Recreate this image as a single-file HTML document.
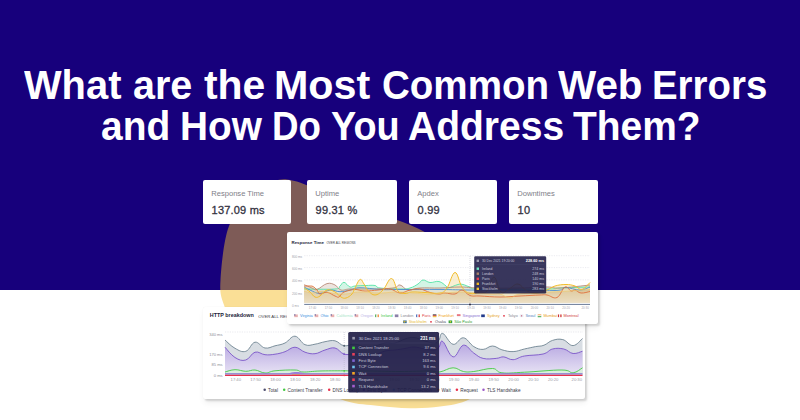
<!DOCTYPE html>
<html><head><meta charset="utf-8">
<style>
*{margin:0;padding:0;box-sizing:border-box}
html,body{width:800px;height:420px;overflow:hidden;background:#fff;font-family:"Liberation Sans",sans-serif}
#stage{position:relative;width:800px;height:420px;overflow:hidden;background:#fff}
#navy{position:absolute;left:0;top:0;width:800px;height:290px;background:#17007c}
.full{position:absolute;left:0;top:0;width:800px;height:420px;overflow:visible}
.tw{position:absolute;color:#fff;font-weight:bold;font-size:40px;white-space:nowrap;line-height:40px;transform-origin:0 0}
.title{position:absolute;left:0;width:800px;text-align:center;color:#fff;font-weight:bold;font-size:40px;white-space:nowrap;line-height:40px}
.card{position:absolute;background:#fff;border-radius:2px}
.stat .lbl{position:absolute;left:8.2px;top:8.6px;font-size:7.6px;color:#808088;white-space:nowrap}
.stat .val{position:absolute;left:8.6px;top:23.8px;font-size:11px;font-weight:normal;-webkit-text-stroke:0.3px #33323f;letter-spacing:0.2px;color:#33323f;white-space:nowrap}
svg text{font-family:"Liberation Sans",sans-serif}
</style></head><body>
<div id="stage">
<div id="navy"></div>
<svg class="full" width="800" height="420">
 <defs>
  <clipPath id="ctop"><rect x="0" y="0" width="800" height="290"/></clipPath>
  <clipPath id="cbot"><rect x="0" y="290" width="800" height="130"/></clipPath>
 </defs>
 <g clip-path="url(#ctop)"><path d="M287.0,179.5 C303.2,180.9 328.2,196.3 350.0,204.5 C371.8,212.7 398.0,218.4 418.0,228.5 C438.0,238.6 454.7,249.8 470.0,265.0 C485.3,280.2 505.0,301.7 510.0,320.0 C515.0,338.3 506.7,361.8 500.0,375.0 C493.3,388.2 480.0,393.7 470.0,399.0 C460.0,404.3 450.0,405.1 440.0,406.6 C430.0,408.1 420.8,408.4 410.0,408.2 C399.2,408.0 386.7,407.0 375.0,405.5 C363.3,404.0 355.8,404.9 340.0,399.0 C324.2,393.1 296.7,380.7 280.0,370.0 C263.3,359.3 249.3,345.8 240.0,335.0 C230.7,324.2 227.2,314.2 224.0,305.0 C220.8,295.8 219.7,293.2 220.5,280.0 C221.3,266.8 223.6,240.0 229.0,226.0 C234.4,212.0 243.3,203.8 253.0,196.0 C262.7,188.2 270.8,178.1 287.0,179.5 Z" fill="#7e5b57"/></g>
 <g clip-path="url(#cbot)"><path d="M287.0,179.5 C303.2,180.9 328.2,196.3 350.0,204.5 C371.8,212.7 398.0,218.4 418.0,228.5 C438.0,238.6 454.7,249.8 470.0,265.0 C485.3,280.2 505.0,301.7 510.0,320.0 C515.0,338.3 506.7,361.8 500.0,375.0 C493.3,388.2 480.0,393.7 470.0,399.0 C460.0,404.3 450.0,405.1 440.0,406.6 C430.0,408.1 420.8,408.4 410.0,408.2 C399.2,408.0 386.7,407.0 375.0,405.5 C363.3,404.0 355.8,404.9 340.0,399.0 C324.2,393.1 296.7,380.7 280.0,370.0 C263.3,359.3 249.3,345.8 240.0,335.0 C230.7,324.2 227.2,314.2 224.0,305.0 C220.8,295.8 219.7,293.2 220.5,280.0 C221.3,266.8 223.6,240.0 229.0,226.0 C234.4,212.0 243.3,203.8 253.0,196.0 C262.7,188.2 270.8,178.1 287.0,179.5 Z" fill="#fadf96"/></g>
</svg>
<span class="tw" style="left:23.75px;top:64.9px;transform:scaleX(0.9964)">What</span>
<span class="tw" style="left:132.76px;top:64.9px;transform:scaleX(0.9871)">are</span>
<span class="tw" style="left:203.50px;top:64.9px;transform:scaleX(1.0220)">the</span>
<span class="tw" style="left:274.41px;top:64.9px;transform:scaleX(1.0311)">Most</span>
<span class="tw" style="left:382.34px;top:64.9px;transform:scaleX(0.9635)">Common</span>
<span class="tw" style="left:558.40px;top:64.9px;transform:scaleX(1.0098)">Web</span>
<span class="tw" style="left:652.12px;top:64.9px;transform:scaleX(0.9603)">Errors</span>
<span class="tw" style="left:101.38px;top:106.2px;transform:scaleX(0.9728)">and</span>
<span class="tw" style="left:180.09px;top:106.2px;transform:scaleX(0.9695)">How</span>
<span class="tw" style="left:272.14px;top:106.2px;transform:scaleX(0.9184)">Do</span>
<span class="tw" style="left:331.36px;top:106.2px;transform:scaleX(0.9449)">You</span>
<span class="tw" style="left:408.02px;top:106.2px;transform:scaleX(0.9753)">Address</span>
<span class="tw" style="left:572.50px;top:106.2px;transform:scaleX(0.9729)">Them?</span>

<div class="card stat" style="left:203px;top:180px;width:88px;height:44px"><div class="lbl">Response Time</div><div class="val">137.09 ms</div></div>
<div class="card stat" style="left:307px;top:180px;width:90px;height:44px"><div class="lbl">Uptime</div><div class="val">99.31 %</div></div>
<div class="card stat" style="left:409px;top:180px;width:88px;height:44px"><div class="lbl">Apdex</div><div class="val">0.99</div></div>
<div class="card stat" style="left:509px;top:180px;width:89px;height:44px"><div class="lbl">Downtimes</div><div class="val">10</div></div>

<!-- HTTP breakdown card -->
<div class="card" style="left:203.3px;top:306.5px;width:382.2px;height:92px;box-shadow:2px 2px 2px rgba(0,0,0,.15),1px 4px 6px rgba(0,0,0,.06),0 0 1px rgba(0,0,0,.08)"></div>
<svg class="full" width="800" height="420">
<text x="209.8" y="317.4" font-size="5.4" font-weight="bold" fill="#23233a">HTTP breakdown</text>
<text x="258.2" y="317.6" font-size="4.3" fill="#3a3a46">OVER ALL REGIONS</text>
<line x1="225" y1="332" x2="583" y2="332" stroke="#dcdce4" stroke-width="0.6" stroke-dasharray="1.2 1.2"/>
<text x="222.6" y="335.59999999999997" font-size="4.1" fill="#8e8e98" text-anchor="end">340 ms</text>
<text x="222.6" y="355.79999999999995" font-size="4.1" fill="#8e8e98" text-anchor="end">170 ms</text>
<text x="222.6" y="366.4" font-size="4.1" fill="#8e8e98" text-anchor="end">85 ms</text>
<text x="222.6" y="377.0" font-size="4.1" fill="#8e8e98" text-anchor="end">0 ms</text>
<defs><linearGradient id="pg" x1="0" y1="0" x2="0" y2="1"><stop offset="0" stop-color="#b4a3e0"/><stop offset="1" stop-color="#e9e5f5"/></linearGradient></defs>
<path d="M225.0,340.0 C227.0,341.7 230.8,346.0 235.0,348.3 C239.2,350.6 241.8,352.5 245.8,351.3 C249.8,350.1 251.2,342.9 255.0,342.2 C258.8,341.5 261.0,347.3 265.0,348.0 C269.0,348.7 271.0,346.8 275.0,345.8 C279.0,344.8 281.0,344.9 285.0,343.0 C289.0,341.1 291.0,335.9 295.0,336.2 C299.0,336.5 301.0,343.1 305.0,344.7 C309.0,346.3 311.0,344.8 315.0,344.2 C319.0,343.6 321.0,342.4 325.0,341.7 C329.0,341.0 331.2,340.0 335.0,340.8 C338.8,341.6 340.2,345.2 344.2,345.8 C348.2,346.4 350.8,343.8 355.0,344.0 C359.2,344.2 361.0,346.6 365.0,347.0 C369.0,347.4 371.0,346.8 375.0,346.0 C379.0,345.2 381.0,343.6 385.0,343.0 C389.0,342.4 391.0,343.8 395.0,343.0 C399.0,342.2 401.2,340.1 405.0,339.0 C408.8,337.9 410.0,337.1 414.0,337.5 C418.0,337.9 420.8,339.9 425.0,341.0 C429.2,342.1 432.2,343.2 435.0,343.0 C437.8,342.8 437.4,341.9 439.0,340.0 C440.6,338.1 440.0,332.5 442.8,333.4 C445.6,334.3 449.0,343.4 453.1,344.3 C457.2,345.2 459.3,337.3 463.4,337.8 C467.5,338.2 469.8,344.3 473.8,346.6 C477.7,348.9 479.4,349.5 483.1,349.4 C486.9,349.3 488.7,345.9 492.5,346.0 C496.3,346.1 497.8,348.6 501.9,349.8 C506.0,350.9 508.6,351.8 513.1,351.6 C517.6,351.5 519.9,350.0 524.4,349.0 C528.9,348.0 531.7,347.4 535.6,346.6 C539.5,345.9 540.6,346.5 544.0,345.2 C547.4,344.0 548.7,341.5 552.5,340.4 C556.3,339.3 558.7,338.6 562.8,339.6 C566.9,340.6 569.2,345.8 573.1,345.6 C577.0,345.4 580.6,339.9 582.5,338.5 L582.5,375.3 L225.0,375.3 Z" fill="#d8dde3"/>
<path d="M225.0,347.2 C227.0,349.3 230.8,354.9 235.0,357.5 C239.2,360.1 241.8,361.1 245.8,360.0 C249.8,358.9 251.2,353.3 255.0,352.2 C258.8,351.1 261.0,354.3 265.0,354.7 C269.0,355.1 271.0,354.8 275.0,354.2 C279.0,353.6 281.0,353.1 285.0,351.7 C289.0,350.3 291.0,347.1 295.0,347.2 C299.0,347.3 301.0,350.9 305.0,352.2 C309.0,353.5 311.0,354.1 315.0,353.7 C319.0,353.3 321.0,351.1 325.0,350.0 C329.0,348.9 331.2,347.2 335.0,348.0 C338.8,348.8 340.2,353.0 344.2,354.2 C348.2,355.4 350.8,353.4 355.0,354.0 C359.2,354.6 361.0,356.8 365.0,357.0 C369.0,357.2 371.0,356.2 375.0,355.0 C379.0,353.8 381.0,352.0 385.0,351.0 C389.0,350.0 391.0,350.5 395.0,350.0 C399.0,349.5 401.2,349.1 405.0,348.5 C408.8,347.9 410.0,346.9 414.0,347.0 C418.0,347.1 420.8,348.4 425.0,349.0 C429.2,349.6 432.2,350.4 435.0,350.0 C437.8,349.6 437.4,348.7 439.0,347.0 C440.6,345.3 440.0,339.5 442.8,341.5 C445.6,343.5 449.0,356.1 453.1,356.9 C457.2,357.6 459.3,346.0 463.4,345.2 C467.5,344.5 469.8,350.5 473.8,353.1 C477.7,355.7 478.6,357.3 483.1,358.4 C487.6,359.5 492.1,358.7 496.2,358.4 C500.4,358.1 500.4,356.6 503.8,356.9 C507.1,357.2 509.0,359.9 513.1,359.7 C517.2,359.5 518.4,357.1 524.4,356.0 C530.4,354.9 537.5,355.4 543.1,354.0 C548.7,352.6 548.4,350.0 552.5,349.0 C556.6,348.0 559.6,348.1 563.8,349.0 C567.9,349.9 569.4,353.1 573.1,353.5 C576.9,353.9 580.6,351.7 582.5,351.2 L582.5,375.3 L225.0,375.3 Z" fill="url(#pg)"/>
<path d="M225.0,372.0 C227.0,371.5 230.8,369.8 235.0,369.7 C239.2,369.6 241.8,371.2 245.8,371.3 C249.8,371.4 251.2,369.7 255.0,370.0 C258.8,370.3 261.0,372.8 265.0,373.0 C269.0,373.2 269.0,371.4 275.0,370.8 C281.0,370.2 289.4,369.8 295.0,370.0 C300.6,370.2 298.0,371.8 303.0,372.0 C308.0,372.2 311.8,371.2 320.0,371.0 C328.2,370.8 334.0,370.8 344.0,370.8 C354.0,370.8 358.8,370.9 370.0,371.0 C381.2,371.1 388.0,371.5 400.0,371.5 C412.0,371.5 422.0,370.9 430.0,371.0 C438.0,371.1 435.4,372.5 440.0,371.9 C444.6,371.2 448.4,367.8 453.1,367.8 C457.8,367.7 459.3,370.8 463.4,371.5 C467.5,372.2 467.9,372.1 473.8,371.5 C479.6,370.9 486.9,368.2 492.5,368.5 C498.1,368.8 495.5,372.1 501.9,372.8 C508.3,373.6 512.4,372.8 524.4,372.2 C536.4,371.7 552.2,369.9 561.9,370.0 C571.6,370.1 569.0,373.2 573.1,372.8 C577.2,372.4 580.6,368.8 582.5,367.8 L582.5,375.3 L225.0,375.3 Z" fill="#d9f2d9" opacity="0.8"/>
<path d="M225.0,340.0 C227.0,341.7 230.8,346.0 235.0,348.3 C239.2,350.6 241.8,352.5 245.8,351.3 C249.8,350.1 251.2,342.9 255.0,342.2 C258.8,341.5 261.0,347.3 265.0,348.0 C269.0,348.7 271.0,346.8 275.0,345.8 C279.0,344.8 281.0,344.9 285.0,343.0 C289.0,341.1 291.0,335.9 295.0,336.2 C299.0,336.5 301.0,343.1 305.0,344.7 C309.0,346.3 311.0,344.8 315.0,344.2 C319.0,343.6 321.0,342.4 325.0,341.7 C329.0,341.0 331.2,340.0 335.0,340.8 C338.8,341.6 340.2,345.2 344.2,345.8 C348.2,346.4 350.8,343.8 355.0,344.0 C359.2,344.2 361.0,346.6 365.0,347.0 C369.0,347.4 371.0,346.8 375.0,346.0 C379.0,345.2 381.0,343.6 385.0,343.0 C389.0,342.4 391.0,343.8 395.0,343.0 C399.0,342.2 401.2,340.1 405.0,339.0 C408.8,337.9 410.0,337.1 414.0,337.5 C418.0,337.9 420.8,339.9 425.0,341.0 C429.2,342.1 432.2,343.2 435.0,343.0 C437.8,342.8 437.4,341.9 439.0,340.0 C440.6,338.1 440.0,332.5 442.8,333.4 C445.6,334.3 449.0,343.4 453.1,344.3 C457.2,345.2 459.3,337.3 463.4,337.8 C467.5,338.2 469.8,344.3 473.8,346.6 C477.7,348.9 479.4,349.5 483.1,349.4 C486.9,349.3 488.7,345.9 492.5,346.0 C496.3,346.1 497.8,348.6 501.9,349.8 C506.0,350.9 508.6,351.8 513.1,351.6 C517.6,351.5 519.9,350.0 524.4,349.0 C528.9,348.0 531.7,347.4 535.6,346.6 C539.5,345.9 540.6,346.5 544.0,345.2 C547.4,344.0 548.7,341.5 552.5,340.4 C556.3,339.3 558.7,338.6 562.8,339.6 C566.9,340.6 569.2,345.8 573.1,345.6 C577.0,345.4 580.6,339.9 582.5,338.5" fill="none" stroke="#6f8592" stroke-width="0.9"/>
<path d="M225.0,347.2 C227.0,349.3 230.8,354.9 235.0,357.5 C239.2,360.1 241.8,361.1 245.8,360.0 C249.8,358.9 251.2,353.3 255.0,352.2 C258.8,351.1 261.0,354.3 265.0,354.7 C269.0,355.1 271.0,354.8 275.0,354.2 C279.0,353.6 281.0,353.1 285.0,351.7 C289.0,350.3 291.0,347.1 295.0,347.2 C299.0,347.3 301.0,350.9 305.0,352.2 C309.0,353.5 311.0,354.1 315.0,353.7 C319.0,353.3 321.0,351.1 325.0,350.0 C329.0,348.9 331.2,347.2 335.0,348.0 C338.8,348.8 340.2,353.0 344.2,354.2 C348.2,355.4 350.8,353.4 355.0,354.0 C359.2,354.6 361.0,356.8 365.0,357.0 C369.0,357.2 371.0,356.2 375.0,355.0 C379.0,353.8 381.0,352.0 385.0,351.0 C389.0,350.0 391.0,350.5 395.0,350.0 C399.0,349.5 401.2,349.1 405.0,348.5 C408.8,347.9 410.0,346.9 414.0,347.0 C418.0,347.1 420.8,348.4 425.0,349.0 C429.2,349.6 432.2,350.4 435.0,350.0 C437.8,349.6 437.4,348.7 439.0,347.0 C440.6,345.3 440.0,339.5 442.8,341.5 C445.6,343.5 449.0,356.1 453.1,356.9 C457.2,357.6 459.3,346.0 463.4,345.2 C467.5,344.5 469.8,350.5 473.8,353.1 C477.7,355.7 478.6,357.3 483.1,358.4 C487.6,359.5 492.1,358.7 496.2,358.4 C500.4,358.1 500.4,356.6 503.8,356.9 C507.1,357.2 509.0,359.9 513.1,359.7 C517.2,359.5 518.4,357.1 524.4,356.0 C530.4,354.9 537.5,355.4 543.1,354.0 C548.7,352.6 548.4,350.0 552.5,349.0 C556.6,348.0 559.6,348.1 563.8,349.0 C567.9,349.9 569.4,353.1 573.1,353.5 C576.9,353.9 580.6,351.7 582.5,351.2" fill="none" stroke="#7a55c8" stroke-width="0.9"/>
<path d="M225.0,372.0 C227.0,371.5 230.8,369.8 235.0,369.7 C239.2,369.6 241.8,371.2 245.8,371.3 C249.8,371.4 251.2,369.7 255.0,370.0 C258.8,370.3 261.0,372.8 265.0,373.0 C269.0,373.2 269.0,371.4 275.0,370.8 C281.0,370.2 289.4,369.8 295.0,370.0 C300.6,370.2 298.0,371.8 303.0,372.0 C308.0,372.2 311.8,371.2 320.0,371.0 C328.2,370.8 334.0,370.8 344.0,370.8 C354.0,370.8 358.8,370.9 370.0,371.0 C381.2,371.1 388.0,371.5 400.0,371.5 C412.0,371.5 422.0,370.9 430.0,371.0 C438.0,371.1 435.4,372.5 440.0,371.9 C444.6,371.2 448.4,367.8 453.1,367.8 C457.8,367.7 459.3,370.8 463.4,371.5 C467.5,372.2 467.9,372.1 473.8,371.5 C479.6,370.9 486.9,368.2 492.5,368.5 C498.1,368.8 495.5,372.1 501.9,372.8 C508.3,373.6 512.4,372.8 524.4,372.2 C536.4,371.7 552.2,369.9 561.9,370.0 C571.6,370.1 569.0,373.2 573.1,372.8 C577.2,372.4 580.6,368.8 582.5,367.8" fill="none" stroke="#44c844" stroke-width="0.9"/>
<line x1="225" y1="373.9" x2="582.5" y2="373.9" stroke="#8270d4" stroke-width="1.3"/>
<path d="M292,374 L300,374" stroke="#f5a623" stroke-width="0.9"/>
<path d="M288.0,374.0 C289.0,373.7 290.6,372.6 293.0,372.3 C295.4,372.0 297.6,372.0 300.0,372.3 C302.4,372.6 304.0,373.7 305.0,374.0" fill="#9a80d8" stroke="none"/>
<line x1="225" y1="375.4" x2="582.5" y2="375.4" stroke="#e8304c" stroke-width="1.1"/>
<line x1="344.2" y1="332" x2="344.2" y2="376" stroke="#b0b0c0" stroke-width="0.5" stroke-dasharray="1 1"/>
<circle cx="344.2" cy="345.8" r="0.9" fill="#4a5a66"/>
<circle cx="344.2" cy="354.2" r="0.9" fill="#7a55c8"/>
<circle cx="344.2" cy="370.8" r="0.9" fill="#44c844"/>
<circle cx="344.2" cy="375.3" r="0.9" fill="#e8304c"/>
<text x="235.8" y="381.0" font-size="4.2" fill="#9c9ca6" text-anchor="middle">17:40</text>
<text x="255.6" y="381.0" font-size="4.2" fill="#9c9ca6" text-anchor="middle">17:50</text>
<text x="275.5" y="381.0" font-size="4.2" fill="#9c9ca6" text-anchor="middle">18:00</text>
<text x="295.3" y="381.0" font-size="4.2" fill="#9c9ca6" text-anchor="middle">18:10</text>
<text x="315.2" y="381.0" font-size="4.2" fill="#9c9ca6" text-anchor="middle">18:20</text>
<text x="335.0" y="381.0" font-size="4.2" fill="#9c9ca6" text-anchor="middle">18:30</text>
<text x="354.8" y="381.0" font-size="4.2" fill="#9c9ca6" text-anchor="middle">18:40</text>
<text x="374.7" y="381.0" font-size="4.2" fill="#9c9ca6" text-anchor="middle">18:50</text>
<text x="394.5" y="381.0" font-size="4.2" fill="#9c9ca6" text-anchor="middle">19:00</text>
<text x="414.4" y="381.0" font-size="4.2" fill="#9c9ca6" text-anchor="middle">19:10</text>
<text x="434.2" y="381.0" font-size="4.2" fill="#9c9ca6" text-anchor="middle">19:20</text>
<text x="454.0" y="381.0" font-size="4.2" fill="#9c9ca6" text-anchor="middle">19:30</text>
<text x="473.9" y="381.0" font-size="4.2" fill="#9c9ca6" text-anchor="middle">19:40</text>
<text x="493.7" y="381.0" font-size="4.2" fill="#9c9ca6" text-anchor="middle">19:50</text>
<text x="513.6" y="381.0" font-size="4.2" fill="#9c9ca6" text-anchor="middle">20:00</text>
<text x="533.4" y="381.0" font-size="4.2" fill="#9c9ca6" text-anchor="middle">20:10</text>
<text x="553.2" y="381.0" font-size="4.2" fill="#9c9ca6" text-anchor="middle">20:20</text>
<text x="576.8" y="381.0" font-size="4.2" fill="#9c9ca6" text-anchor="middle">20:30</text>
<circle cx="264.7" cy="389.7" r="1.25" fill="#4d4d6e"/>
<text x="268.1" y="391.5" font-size="4.7" fill="#3a3a4a">Total</text>
<circle cx="284.2" cy="389.7" r="1.25" fill="#44c844"/>
<text x="287.6" y="391.5" font-size="4.7" fill="#3a3a4a">Content Transfer</text>
<circle cx="329.2" cy="389.7" r="1.25" fill="#e8304c"/>
<text x="332.6" y="391.5" font-size="4.7" fill="#3a3a4a">DNS Lookup</text>
<circle cx="363.8" cy="389.7" r="1.25" fill="#7a55c8"/>
<text x="367.2" y="391.5" font-size="4.7" fill="#3a3a4a">First Byte</text>
<circle cx="393.8" cy="389.7" r="1.25" fill="#6ec3ee"/>
<text x="397.2" y="391.5" font-size="4.7" fill="#3a3a4a">TCP Connection</text>
<circle cx="438.2" cy="389.7" r="1.25" fill="#f5a623"/>
<text x="441.6" y="391.5" font-size="4.7" fill="#3a3a4a">Wait</text>
<circle cx="456.9" cy="389.7" r="1.25" fill="#e8304c"/>
<text x="460.3" y="391.5" font-size="4.7" fill="#3a3a4a">Request</text>
<circle cx="483.5" cy="389.7" r="1.25" fill="#9b59c6"/>
<text x="486.9" y="391.5" font-size="4.7" fill="#3a3a4a">TLS Handshake</text>
<rect x="348.2" y="332" width="90.9" height="60.6" rx="1.5" fill="#201d47" fill-opacity="0.92"/>
<rect x="352.3" y="336.9" width="2.6" height="2.6" fill="#9c9cb0"/>
<text x="358.7" y="339.9" font-size="4.1" fill="#d4d4e2">30 Dec 2021 18:25:00</text>
<text x="435.6" y="340" font-size="4.5" font-weight="bold" fill="#ffffff" text-anchor="end">231 ms</text>
<line x1="352" y1="343" x2="435.6" y2="343" stroke="#4a4870" stroke-width="0.4"/>
<rect x="352.2" y="346.6" width="2.6" height="2.6" fill="#3fce3f"/>
<text x="358.4" y="349.3" font-size="4.1" fill="#c8c8da">Content Transfer</text>
<text x="435.6" y="349.3" font-size="4.1" fill="#c8c8da" text-anchor="end">37 ms</text>
<rect x="352.2" y="353.0" width="2.6" height="2.6" fill="#e8405a"/>
<text x="358.4" y="355.7" font-size="4.1" fill="#c8c8da">DNS Lookup</text>
<text x="435.6" y="355.7" font-size="4.1" fill="#c8c8da" text-anchor="end">8.2 ms</text>
<rect x="352.2" y="359.3" width="2.6" height="2.6" fill="#7d63cf"/>
<text x="358.4" y="362.0" font-size="4.1" fill="#c8c8da">First Byte</text>
<text x="435.6" y="362.0" font-size="4.1" fill="#c8c8da" text-anchor="end">163 ms</text>
<rect x="352.2" y="365.7" width="2.6" height="2.6" fill="#6ec3ee"/>
<text x="358.4" y="368.4" font-size="4.1" fill="#c8c8da">TCP Connection</text>
<text x="435.6" y="368.4" font-size="4.1" fill="#c8c8da" text-anchor="end">9.6 ms</text>
<rect x="352.2" y="372.0" width="2.6" height="2.6" fill="#f5a623"/>
<text x="358.4" y="374.7" font-size="4.1" fill="#c8c8da">Wait</text>
<text x="435.6" y="374.7" font-size="4.1" fill="#c8c8da" text-anchor="end">0 ms</text>
<rect x="352.2" y="378.4" width="2.6" height="2.6" fill="#e8405a"/>
<text x="358.4" y="381.1" font-size="4.1" fill="#c8c8da">Request</text>
<text x="435.6" y="381.1" font-size="4.1" fill="#c8c8da" text-anchor="end">0 ms</text>
<rect x="352.2" y="384.8" width="2.6" height="2.6" fill="#a65fd0"/>
<text x="358.4" y="387.5" font-size="4.1" fill="#c8c8da">TLS Handshake</text>
<text x="435.6" y="387.5" font-size="4.1" fill="#c8c8da" text-anchor="end">13.2 ms</text>
</svg>

<!-- Response time chart card -->
<div class="card" style="left:287px;top:232.2px;width:311px;height:92px;box-shadow:2px 2px 2px rgba(0,0,0,.15),1px 4px 6px rgba(0,0,0,.06),0 0 1px rgba(0,0,0,.08)"></div>
<svg class="full" width="800" height="420">
<text x="291.5" y="244" font-size="4.4" font-weight="bold" fill="#25253a">Response Time</text>
<text x="326.5" y="244.4" font-size="3.0" fill="#3e3e48">OVER ALL REGIONS</text>
<text x="292" y="258.09999999999997" font-size="3.1" fill="#a0a0aa">800 ms</text>
<line x1="304.2" y1="255.7" x2="590" y2="255.7" stroke="#dedee6" stroke-width="0.6" stroke-dasharray="1.2 1.2"/>
<text x="292" y="270.0" font-size="3.1" fill="#a0a0aa">600 ms</text>
<line x1="304.2" y1="267.6" x2="590" y2="267.6" stroke="#dedee6" stroke-width="0.6" stroke-dasharray="1.2 1.2"/>
<text x="292" y="282.29999999999995" font-size="3.1" fill="#a0a0aa">400 ms</text>
<line x1="304.2" y1="279.9" x2="590" y2="279.9" stroke="#dedee6" stroke-width="0.6" stroke-dasharray="1.2 1.2"/>
<text x="292" y="294.59999999999997" font-size="3.1" fill="#a0a0aa">200 ms</text>
<line x1="304.2" y1="292.2" x2="590" y2="292.2" stroke="#dedee6" stroke-width="0.6" stroke-dasharray="1.2 1.2"/>
<text x="292" y="306.7" font-size="3.1" fill="#a0a0aa">0 ms</text>
<defs><linearGradient id="tg" x1="0" y1="0" x2="0" y2="1"><stop offset="0" stop-color="#d8c190"/><stop offset="0.7" stop-color="#e9dcc0"/><stop offset="1" stop-color="#f3ebdc"/></linearGradient></defs>
<path d="M304.2,289.0 C310.4,289.0 327.8,289.6 335.0,289.0 C342.2,288.4 338.2,287.3 340.0,286.0 C341.8,284.7 342.0,282.1 344.0,282.3 C346.0,282.5 347.8,286.3 350.0,287.0 C352.2,287.7 351.8,286.3 355.0,286.0 C358.2,285.7 362.0,285.6 366.0,285.5 C370.0,285.4 372.2,285.0 375.0,285.5 C377.8,286.0 375.0,287.3 380.0,288.0 C385.0,288.7 394.0,289.0 400.0,289.0 C406.0,289.0 406.4,289.0 410.0,288.0 C413.6,287.0 415.4,285.6 418.0,284.0 C420.6,282.4 420.6,280.3 423.0,280.0 C425.4,279.7 426.8,282.2 430.0,282.5 C433.2,282.8 435.8,280.8 439.0,281.5 C442.2,282.2 444.2,284.7 446.0,286.0 C447.8,287.3 445.6,288.3 448.0,288.0 C450.4,287.7 455.0,285.2 458.0,284.5 C461.0,283.8 460.6,284.0 463.0,284.5 C465.4,285.0 466.6,286.1 470.0,287.0 C473.4,287.9 464.6,288.6 480.0,289.0 C495.4,289.4 531.0,289.2 547.0,289.0 C563.0,288.8 551.4,288.4 560.0,288.0 C568.6,287.6 584.0,287.2 590.0,287.0 L590.0,302.8 L304.2,302.8 Z" fill="#c8f3df" opacity="0.8"/>
<path d="M304.2,284.7 C305.8,285.4 309.4,287.0 312.0,288.0 C314.6,289.0 314.0,290.4 317.0,289.5 C320.0,288.6 323.4,284.5 327.0,283.6 C330.6,282.7 332.2,283.7 335.0,285.0 C337.8,286.3 338.0,289.2 341.0,290.0 C344.0,290.8 344.2,289.2 350.0,289.0 C355.8,288.8 361.4,289.2 370.0,289.0 C378.6,288.8 387.0,288.8 393.0,288.0 C399.0,287.2 397.0,284.6 400.0,285.0 C403.0,285.4 404.0,289.4 408.0,290.0 C412.0,290.6 413.6,288.4 420.0,288.0 C426.4,287.6 432.0,288.2 440.0,288.0 C448.0,287.8 452.0,287.0 460.0,287.0 C468.0,287.0 468.0,287.8 480.0,288.0 C492.0,288.2 506.6,288.2 520.0,288.0 C533.4,287.8 539.0,287.0 547.0,287.0 C555.0,287.0 551.4,288.4 560.0,288.0 C568.6,287.6 584.0,285.6 590.0,285.0 L590.0,302.8 L304.2,302.8 Z" fill="#e4d8d0" opacity="0.7"/>
<path d="M304.2,288.0 C305.4,288.8 307.8,290.2 310.0,292.0 C312.2,293.8 313.0,296.2 315.0,297.0 C317.0,297.8 317.6,297.4 320.0,296.0 C322.4,294.6 324.0,290.8 327.0,290.0 C330.0,289.2 332.2,290.6 335.0,292.0 C337.8,293.4 338.8,295.8 341.0,297.0 C343.2,298.2 343.8,298.6 346.0,298.0 C348.2,297.4 350.2,296.0 352.0,294.0 C353.8,292.0 353.4,290.9 355.0,288.0 C356.6,285.1 358.2,280.3 360.0,279.5 C361.8,278.7 362.4,281.8 364.0,284.0 C365.6,286.2 365.8,288.3 368.0,290.5 C370.2,292.7 372.0,295.1 375.0,295.0 C378.0,294.9 379.7,293.3 383.0,290.0 C386.3,286.7 388.5,278.3 391.5,278.5 C394.5,278.7 395.3,288.0 398.0,291.0 C400.7,294.0 402.2,293.3 405.0,293.5 C407.8,293.7 408.0,292.2 412.0,292.0 C416.0,291.8 419.4,292.3 425.0,292.5 C430.6,292.7 435.6,293.9 440.0,293.0 C444.4,292.1 444.0,292.1 447.0,288.0 C450.0,283.9 452.0,272.7 455.0,272.5 C458.0,272.3 459.0,282.8 462.0,287.0 C465.0,291.2 466.4,292.5 470.0,293.5 C473.6,294.5 476.6,292.5 480.0,292.0 C483.4,291.5 484.2,294.0 487.0,291.0 C489.8,288.0 491.2,276.8 494.0,277.0 C496.8,277.2 498.0,289.6 501.0,292.0 C504.0,294.4 505.6,290.6 509.0,289.0 C512.4,287.4 514.4,283.6 518.0,284.0 C521.6,284.4 523.2,289.2 527.0,291.0 C530.8,292.8 533.0,293.2 537.0,293.0 C541.0,292.8 543.4,291.4 547.0,290.0 C550.6,288.6 551.2,287.1 555.0,286.0 C558.8,284.9 562.0,284.5 566.0,284.5 C570.0,284.5 571.8,285.0 575.0,286.0 C578.2,287.0 579.0,290.2 582.0,289.5 C585.0,288.8 588.4,283.9 590.0,282.5 L590.0,302.8 L304.2,302.8 Z" fill="#f5e4b4" opacity="0.6"/>
<path d="M304.2,291.0 C305.8,291.4 308.4,293.0 312.0,293.0 C315.6,293.0 318.0,291.0 322.0,291.0 C326.0,291.0 327.4,292.4 332.0,293.0 C336.6,293.6 339.4,294.2 345.0,294.0 C350.6,293.8 353.0,292.2 360.0,292.0 C367.0,291.8 372.0,293.0 380.0,293.0 C388.0,293.0 390.0,291.8 400.0,292.0 C410.0,292.2 418.0,294.0 430.0,294.0 C442.0,294.0 448.0,292.0 460.0,292.0 C472.0,292.0 482.0,293.6 490.0,294.0 C498.0,294.4 496.0,293.2 500.0,294.0 C504.0,294.8 506.0,298.0 510.0,298.0 C514.0,298.0 512.0,295.2 520.0,294.0 C528.0,292.8 540.0,292.6 550.0,292.0 C560.0,291.4 562.0,291.6 570.0,291.0 C578.0,290.4 586.0,289.4 590.0,289.0 L590.0,302.8 L304.2,302.8 Z" fill="url(#tg)"/>
<path d="M304.2,286.0 C305.2,286.0 307.2,285.9 309.0,286.0 C310.8,286.1 311.4,285.7 313.0,286.5 C314.6,287.3 315.6,288.5 317.0,290.0 C318.4,291.5 318.0,293.5 320.0,294.0 C322.0,294.5 324.0,291.9 327.0,292.3 C330.0,292.7 332.6,295.1 335.0,296.0 C337.4,296.9 337.4,297.7 339.0,297.0 C340.6,296.3 340.6,294.0 343.0,292.6 C345.4,291.2 348.4,290.6 351.0,290.0 C353.6,289.4 353.2,289.3 356.0,289.5 C358.8,289.7 360.6,290.9 365.0,291.0 C369.4,291.1 373.0,290.4 378.0,290.0 C383.0,289.6 385.6,288.4 390.0,289.0 C394.4,289.6 396.0,292.8 400.0,293.0 C404.0,293.2 406.0,290.8 410.0,290.0 C414.0,289.2 416.0,288.5 420.0,289.0 C424.0,289.5 426.2,291.5 430.0,292.5 C433.8,293.5 436.0,293.9 439.0,294.0 C442.0,294.1 441.8,293.0 445.0,293.0 C448.2,293.0 451.6,294.6 455.0,294.0 C458.4,293.4 459.0,289.7 462.0,290.0 C465.0,290.3 466.4,294.3 470.0,295.5 C473.6,296.7 474.0,295.7 480.0,296.0 C486.0,296.3 492.0,297.0 500.0,297.0 C508.0,297.0 512.0,296.4 520.0,296.0 C528.0,295.6 534.6,295.2 540.0,295.0 C545.4,294.8 543.6,294.5 547.0,295.0 C550.4,295.5 553.4,299.1 557.0,297.5 C560.6,295.9 562.2,288.3 565.0,287.0 C567.8,285.7 569.0,290.4 571.0,291.0 C573.0,291.6 573.0,289.6 575.0,290.0 C577.0,290.4 578.0,292.7 581.0,293.0 C584.0,293.3 588.2,291.8 590.0,291.5 L590.0,302.8 L304.2,302.8 Z" fill="#e5d3ae" opacity="0.5"/>
<path d="M304.2,289.0 C310.4,289.0 327.8,289.6 335.0,289.0 C342.2,288.4 338.2,287.3 340.0,286.0 C341.8,284.7 342.0,282.1 344.0,282.3 C346.0,282.5 347.8,286.3 350.0,287.0 C352.2,287.7 351.8,286.3 355.0,286.0 C358.2,285.7 362.0,285.6 366.0,285.5 C370.0,285.4 372.2,285.0 375.0,285.5 C377.8,286.0 375.0,287.3 380.0,288.0 C385.0,288.7 394.0,289.0 400.0,289.0 C406.0,289.0 406.4,289.0 410.0,288.0 C413.6,287.0 415.4,285.6 418.0,284.0 C420.6,282.4 420.6,280.3 423.0,280.0 C425.4,279.7 426.8,282.2 430.0,282.5 C433.2,282.8 435.8,280.8 439.0,281.5 C442.2,282.2 444.2,284.7 446.0,286.0 C447.8,287.3 445.6,288.3 448.0,288.0 C450.4,287.7 455.0,285.2 458.0,284.5 C461.0,283.8 460.6,284.0 463.0,284.5 C465.4,285.0 466.6,286.1 470.0,287.0 C473.4,287.9 464.6,288.6 480.0,289.0 C495.4,289.4 531.0,289.2 547.0,289.0 C563.0,288.8 551.4,288.4 560.0,288.0 C568.6,287.6 584.0,287.2 590.0,287.0" fill="none" stroke="#55e3a6" stroke-width="0.9"/>
<path d="M304.2,284.7 C305.8,285.4 309.4,287.0 312.0,288.0 C314.6,289.0 314.0,290.4 317.0,289.5 C320.0,288.6 323.4,284.5 327.0,283.6 C330.6,282.7 332.2,283.7 335.0,285.0 C337.8,286.3 338.0,289.2 341.0,290.0 C344.0,290.8 344.2,289.2 350.0,289.0 C355.8,288.8 361.4,289.2 370.0,289.0 C378.6,288.8 387.0,288.8 393.0,288.0 C399.0,287.2 397.0,284.6 400.0,285.0 C403.0,285.4 404.0,289.4 408.0,290.0 C412.0,290.6 413.6,288.4 420.0,288.0 C426.4,287.6 432.0,288.2 440.0,288.0 C448.0,287.8 452.0,287.0 460.0,287.0 C468.0,287.0 468.0,287.8 480.0,288.0 C492.0,288.2 506.6,288.2 520.0,288.0 C533.4,287.8 539.0,287.0 547.0,287.0 C555.0,287.0 551.4,288.4 560.0,288.0 C568.6,287.6 584.0,285.6 590.0,285.0" fill="none" stroke="#b98c7a" stroke-width="0.9"/>
<path d="M304.2,287.0 C305.4,287.6 306.8,288.7 310.0,290.0 C313.2,291.3 316.0,293.5 320.0,293.5 C324.0,293.5 326.0,290.4 330.0,290.0 C334.0,289.6 336.0,291.7 340.0,291.7 C344.0,291.7 346.0,290.8 350.0,290.0 C354.0,289.2 354.0,287.8 360.0,287.7 C366.0,287.6 372.0,289.1 380.0,289.5 C388.0,289.9 388.0,289.5 400.0,289.5 C412.0,289.5 426.0,289.4 440.0,289.5 C454.0,289.6 458.0,289.9 470.0,290.0 C482.0,290.1 483.0,289.9 500.0,290.0 C517.0,290.1 542.0,291.0 555.0,290.5 C568.0,290.0 560.0,287.6 565.0,287.5 C570.0,287.4 575.0,290.1 580.0,290.0 C585.0,289.9 588.0,287.6 590.0,287.0" fill="none" stroke="#4b8fcf" stroke-width="0.9"/>
<path d="M304.2,286.0 C305.2,286.0 307.2,285.9 309.0,286.0 C310.8,286.1 311.4,285.7 313.0,286.5 C314.6,287.3 315.6,288.5 317.0,290.0 C318.4,291.5 318.0,293.5 320.0,294.0 C322.0,294.5 324.0,291.9 327.0,292.3 C330.0,292.7 332.6,295.1 335.0,296.0 C337.4,296.9 337.4,297.7 339.0,297.0 C340.6,296.3 340.6,294.0 343.0,292.6 C345.4,291.2 348.4,290.6 351.0,290.0 C353.6,289.4 353.2,289.3 356.0,289.5 C358.8,289.7 360.6,290.9 365.0,291.0 C369.4,291.1 373.0,290.4 378.0,290.0 C383.0,289.6 385.6,288.4 390.0,289.0 C394.4,289.6 396.0,292.8 400.0,293.0 C404.0,293.2 406.0,290.8 410.0,290.0 C414.0,289.2 416.0,288.5 420.0,289.0 C424.0,289.5 426.2,291.5 430.0,292.5 C433.8,293.5 436.0,293.9 439.0,294.0 C442.0,294.1 441.8,293.0 445.0,293.0 C448.2,293.0 451.6,294.6 455.0,294.0 C458.4,293.4 459.0,289.7 462.0,290.0 C465.0,290.3 466.4,294.3 470.0,295.5 C473.6,296.7 474.0,295.7 480.0,296.0 C486.0,296.3 492.0,297.0 500.0,297.0 C508.0,297.0 512.0,296.4 520.0,296.0 C528.0,295.6 534.6,295.2 540.0,295.0 C545.4,294.8 543.6,294.5 547.0,295.0 C550.4,295.5 553.4,299.1 557.0,297.5 C560.6,295.9 562.2,288.3 565.0,287.0 C567.8,285.7 569.0,290.4 571.0,291.0 C573.0,291.6 573.0,289.6 575.0,290.0 C577.0,290.4 578.0,292.7 581.0,293.0 C584.0,293.3 588.2,291.8 590.0,291.5" fill="none" stroke="#e0703c" stroke-width="0.9"/>
<path d="M304.2,288.0 C305.4,288.8 307.8,290.2 310.0,292.0 C312.2,293.8 313.0,296.2 315.0,297.0 C317.0,297.8 317.6,297.4 320.0,296.0 C322.4,294.6 324.0,290.8 327.0,290.0 C330.0,289.2 332.2,290.6 335.0,292.0 C337.8,293.4 338.8,295.8 341.0,297.0 C343.2,298.2 343.8,298.6 346.0,298.0 C348.2,297.4 350.2,296.0 352.0,294.0 C353.8,292.0 353.4,290.9 355.0,288.0 C356.6,285.1 358.2,280.3 360.0,279.5 C361.8,278.7 362.4,281.8 364.0,284.0 C365.6,286.2 365.8,288.3 368.0,290.5 C370.2,292.7 372.0,295.1 375.0,295.0 C378.0,294.9 379.7,293.3 383.0,290.0 C386.3,286.7 388.5,278.3 391.5,278.5 C394.5,278.7 395.3,288.0 398.0,291.0 C400.7,294.0 402.2,293.3 405.0,293.5 C407.8,293.7 408.0,292.2 412.0,292.0 C416.0,291.8 419.4,292.3 425.0,292.5 C430.6,292.7 435.6,293.9 440.0,293.0 C444.4,292.1 444.0,292.1 447.0,288.0 C450.0,283.9 452.0,272.7 455.0,272.5 C458.0,272.3 459.0,282.8 462.0,287.0 C465.0,291.2 466.4,292.5 470.0,293.5 C473.6,294.5 476.6,292.5 480.0,292.0 C483.4,291.5 484.2,294.0 487.0,291.0 C489.8,288.0 491.2,276.8 494.0,277.0 C496.8,277.2 498.0,289.6 501.0,292.0 C504.0,294.4 505.6,290.6 509.0,289.0 C512.4,287.4 514.4,283.6 518.0,284.0 C521.6,284.4 523.2,289.2 527.0,291.0 C530.8,292.8 533.0,293.2 537.0,293.0 C541.0,292.8 543.4,291.4 547.0,290.0 C550.6,288.6 551.2,287.1 555.0,286.0 C558.8,284.9 562.0,284.5 566.0,284.5 C570.0,284.5 571.8,285.0 575.0,286.0 C578.2,287.0 579.0,290.2 582.0,289.5 C585.0,288.8 588.4,283.9 590.0,282.5" fill="none" stroke="#f2bd2c" stroke-width="1.0"/>
<path d="M304.2,291.0 C305.8,291.4 308.4,293.0 312.0,293.0 C315.6,293.0 318.0,291.0 322.0,291.0 C326.0,291.0 327.4,292.4 332.0,293.0 C336.6,293.6 339.4,294.2 345.0,294.0 C350.6,293.8 353.0,292.2 360.0,292.0 C367.0,291.8 372.0,293.0 380.0,293.0 C388.0,293.0 390.0,291.8 400.0,292.0 C410.0,292.2 418.0,294.0 430.0,294.0 C442.0,294.0 448.0,292.0 460.0,292.0 C472.0,292.0 482.0,293.6 490.0,294.0 C498.0,294.4 496.0,293.2 500.0,294.0 C504.0,294.8 506.0,298.0 510.0,298.0 C514.0,298.0 512.0,295.2 520.0,294.0 C528.0,292.8 540.0,292.6 550.0,292.0 C560.0,291.4 562.0,291.6 570.0,291.0 C578.0,290.4 586.0,289.4 590.0,289.0" fill="none" stroke="#eec868" stroke-width="0.6"/>
<line x1="470" y1="256" x2="470" y2="304" stroke="#b0b0c0" stroke-width="0.5" stroke-dasharray="1 1"/>
<line x1="304.2" y1="304.4" x2="590" y2="304.4" stroke="#6a7a98" stroke-width="1"/>
<circle cx="470" cy="304.4" r="1" fill="#2a2a40"/>
<text x="312.5" y="308.9" font-size="3" fill="#a8a8b2" text-anchor="middle">17:40</text>
<text x="328.4" y="308.9" font-size="3" fill="#a8a8b2" text-anchor="middle">17:50</text>
<text x="344.2" y="308.9" font-size="3" fill="#a8a8b2" text-anchor="middle">18:00</text>
<text x="360.1" y="308.9" font-size="3" fill="#a8a8b2" text-anchor="middle">18:10</text>
<text x="375.9" y="308.9" font-size="3" fill="#a8a8b2" text-anchor="middle">18:20</text>
<text x="391.8" y="308.9" font-size="3" fill="#a8a8b2" text-anchor="middle">18:30</text>
<text x="407.6" y="308.9" font-size="3" fill="#a8a8b2" text-anchor="middle">18:40</text>
<text x="423.4" y="308.9" font-size="3" fill="#a8a8b2" text-anchor="middle">18:50</text>
<text x="439.3" y="308.9" font-size="3" fill="#a8a8b2" text-anchor="middle">19:00</text>
<text x="455.1" y="308.9" font-size="3" fill="#a8a8b2" text-anchor="middle">19:10</text>
<text x="471.0" y="308.9" font-size="3" fill="#a8a8b2" text-anchor="middle">19:20</text>
<text x="486.9" y="308.9" font-size="3" fill="#a8a8b2" text-anchor="middle">19:30</text>
<text x="502.7" y="308.9" font-size="3" fill="#a8a8b2" text-anchor="middle">19:40</text>
<text x="518.5" y="308.9" font-size="3" fill="#a8a8b2" text-anchor="middle">19:50</text>
<text x="534.4" y="308.9" font-size="3" fill="#a8a8b2" text-anchor="middle">20:00</text>
<text x="550.2" y="308.9" font-size="3" fill="#a8a8b2" text-anchor="middle">20:10</text>
<text x="566.1" y="308.9" font-size="3" fill="#a8a8b2" text-anchor="middle">20:20</text>
<text x="585.2" y="308.9" font-size="3" fill="#a8a8b2" text-anchor="middle">20:30</text>
<rect x="294.20" y="314.45" width="3.6" height="2.7" fill="#e8b0b0"/><rect x="294.20" y="314.45" width="1.2" height="1" fill="#3a4a9a"/>
<text x="299.9" y="317.2" font-size="3.85" fill="#3d8de0">Virginia</text>
<rect x="314.70" y="314.45" width="3.6" height="2.7" fill="#e8b0b0"/><rect x="314.70" y="314.45" width="1.2" height="1" fill="#3a4a9a"/>
<text x="320.4" y="317.2" font-size="3.85" fill="#3d8de0">Ohio</text>
<rect x="330.70" y="314.45" width="3.6" height="2.7" fill="#e8b0b0"/><rect x="330.70" y="314.45" width="1.2" height="1" fill="#3a4a9a"/>
<text x="336.4" y="317.2" font-size="3.85" fill="#a6e6c8">California</text>
<rect x="354.70" y="314.45" width="3.6" height="2.7" fill="#e8b0b0"/><rect x="354.70" y="314.45" width="1.2" height="1" fill="#3a4a9a"/>
<text x="360.4" y="317.2" font-size="3.85" fill="#bdb4e6">Oregon</text>
<rect x="375.20" y="314.45" width="1.25" height="2.7" fill="#3aa040"/><rect x="376.40" y="314.45" width="1.25" height="2.7" fill="#f0f0f0"/><rect x="377.60" y="314.45" width="1.25" height="2.7" fill="#f08a30"/>
<text x="380.9" y="317.2" font-size="3.85" fill="#3cc850">Ireland</text>
<rect x="394.80" y="314.45" width="3.6" height="2.7" fill="#8a80a8"/>
<text x="400.5" y="317.2" font-size="3.85" fill="#8a8a90">London</text>
<rect x="416.20" y="314.45" width="1.25" height="2.7" fill="#3050b0"/><rect x="417.40" y="314.45" width="1.25" height="2.7" fill="#f0f0f0"/><rect x="418.60" y="314.45" width="1.25" height="2.7" fill="#e04040"/>
<text x="421.9" y="317.2" font-size="3.85" fill="#e04848">Paris</text>
<rect x="432.80" y="314.45" width="3.6" height="0.95" fill="#222"/><rect x="432.80" y="315.35" width="3.6" height="0.95" fill="#d03030"/><rect x="432.80" y="316.25" width="3.6" height="0.95" fill="#f0c020"/>
<text x="438.5" y="317.2" font-size="3.85" fill="#f0a020">Frankfurt</text>
<rect x="456.90" y="314.45" width="3.6" height="1.35" fill="#e03040"/><rect x="456.90" y="315.80" width="3.6" height="1.35" fill="#f0f0f0"/>
<text x="462.6" y="317.2" font-size="3.85" fill="#8a70d0">Singapore</text>
<rect x="481.20" y="314.45" width="3.6" height="2.7" fill="#223a8a"/>
<text x="486.9" y="317.2" font-size="3.85" fill="#e8a830">Sydney</text>
<circle cx="504.0" cy="315.8" r="0.9" fill="#e03040"/>
<text x="507.9" y="317.2" font-size="3.85" fill="#8a8a90">Tokyo</text>
<rect x="519.80" y="314.45" width="3.6" height="2.7" fill="#e8e8f0"/><circle cx="521.6" cy="315.8" r="0.6" fill="#c04060"/>
<text x="525.5" y="317.2" font-size="3.85" fill="#5080c0">Seoul</text>
<rect x="537.70" y="314.45" width="3.6" height="0.95" fill="#f09030"/><rect x="537.70" y="315.35" width="3.6" height="0.95" fill="#f0f0f0"/><rect x="537.70" y="316.25" width="3.6" height="0.95" fill="#30a040"/>
<text x="543.4" y="317.2" font-size="3.85" fill="#e8a020">Mumbai</text>
<rect x="557.90" y="314.45" width="1.25" height="2.7" fill="#d03030"/><rect x="559.10" y="314.45" width="1.25" height="2.7" fill="#f0f0f0"/><rect x="560.30" y="314.45" width="1.25" height="2.7" fill="#d03030"/>
<text x="563.6" y="317.2" font-size="3.85" fill="#d04040">Montreal</text>
<rect x="403.10" y="320.45" width="3.6" height="2.7" fill="#2a6ab0"/><rect x="403.10" y="321.50" width="3.6" height="0.6" fill="#f0c020"/><rect x="403.90" y="320.45" width="0.6" height="2.7" fill="#f0c020"/>
<text x="408.8" y="323.2" font-size="3.85" fill="#e8b830">Stockholm</text>
<circle cx="431.0" cy="321.8" r="0.9" fill="#e03040"/>
<text x="434.9" y="323.2" font-size="3.85" fill="#555560">Osaka</text>
<rect x="448.60" y="320.45" width="3.6" height="2.7" fill="#30a040"/><circle cx="450.4" cy="321.8" r="0.7" fill="#f0d020"/>
<text x="454.3" y="323.2" font-size="3.85" fill="#30a030">São Paulo</text>
<rect x="474.2" y="256.2" width="72" height="37.4" rx="1.3" fill="#22204a" fill-opacity="0.9"/>
<rect x="476.6" y="259.6" width="2.4" height="2.4" fill="#9c9cb0"/>
<text x="482" y="262.2" font-size="3.3" fill="#c8c8da">30 Dec 2021 19:20:00</text>
<text x="544" y="262.3" font-size="3.8" font-weight="bold" fill="#ffffff" text-anchor="end">228.60 ms</text>
<line x1="476.6" y1="264.3" x2="544" y2="264.3" stroke="#4a4870" stroke-width="0.4"/>
<rect x="476.6" y="267.5" width="2.4" height="2.4" fill="#6ee8c0"/>
<text x="482" y="270.0" font-size="3.4" fill="#c8c8da">Ireland</text>
<text x="544" y="270.0" font-size="3.6" fill="#c8c8da" text-anchor="end">274 ms</text>
<rect x="476.6" y="272.5" width="2.4" height="2.4" fill="#a8826a"/>
<text x="482" y="275.0" font-size="3.4" fill="#c8c8da">London</text>
<text x="544" y="275.0" font-size="3.6" fill="#c8c8da" text-anchor="end">248 ms</text>
<rect x="476.6" y="277.6" width="2.4" height="2.4" fill="#e84050"/>
<text x="482" y="280.1" font-size="3.4" fill="#c8c8da">Paris</text>
<text x="544" y="280.1" font-size="3.6" fill="#c8c8da" text-anchor="end">140 ms</text>
<rect x="476.6" y="282.6" width="2.4" height="2.4" fill="#f0b820"/>
<text x="482" y="285.1" font-size="3.4" fill="#c8c8da">Frankfurt</text>
<text x="544" y="285.1" font-size="3.6" fill="#c8c8da" text-anchor="end">190 ms</text>
<rect x="476.6" y="287.6" width="2.4" height="2.4" fill="#f5c030"/>
<text x="482" y="290.1" font-size="3.4" fill="#c8c8da">Stockholm</text>
<text x="544" y="290.1" font-size="3.6" fill="#c8c8da" text-anchor="end">283 ms</text>
</svg>

</div>
</body></html>
